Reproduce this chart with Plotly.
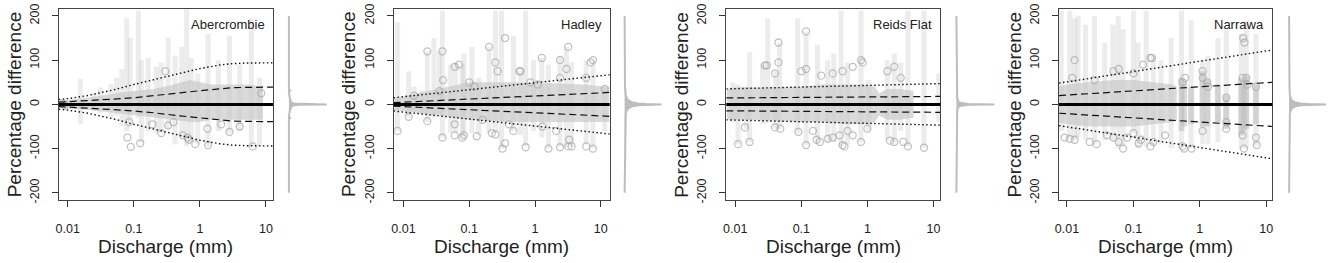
import plotly.graph_objects as go

W, H = 1329, 263

# ---------------- shared axis data ----------------
x_ticks = [0.01, 0.1, 1, 10]
x_tick_labels = ["0.01", "0.1", "1", "10"]
y_ticks = [-200, -100, 0, 100, 200]
y_tick_labels = ["-200", "-100", "0", "100", "200"]
station_names = ["Abercrombie", "Hadley", "Reids Flat", "Narrawa"]

# ---------------- Abercrombie ----------------
ab_col_x = [0.0155, 0.025, 0.031, 0.045, 0.055, 0.066, 0.078, 0.088, 0.117, 0.13, 0.165, 0.22, 0.26,
            0.33, 0.42, 0.53, 0.63, 0.74, 0.93, 1.33, 1.9, 2.8, 4.0, 6.0, 8.0]
ab_col_lo = [-45, -15, -20, -30, -25, -50, -60, -40, -30, -88, -60, -65, -65,
             -55, -90, -75, -95, -85, -90, -95, -60, -65, -60, -95, -95]
ab_col_hi = [58, 25, 38, 45, 60, 80, 195, 150, 212, 100, 105, 85, 95,
             150, 110, 130, 215, 105, 70, 160, 100, 155, 90, 195, 60]
ab_band_x = [0.0075, 0.01, 0.02, 0.04, 0.07, 0.1, 0.2, 0.4, 0.7, 1.0, 1.5, 3, 5, 9.0]
ab_band_hi = [8, 10, 15, 22, 28, 30, 35, 45, 55, 50, 45, 45, 45, 40]
ab_band_lo = [-8, -10, -12, -18, -22, -25, -30, -35, -40, -40, -35, -35, -35, -35]
ab_pt_x = [0.0085, 0.009, 0.085, 0.08, 0.09, 0.125, 0.26, 0.33, 0.68, 0.85, 1.33, 2.8, 6.3, 0.19, 0.55,
           0.3, 0.65, 0.4, 1.3, 2.1, 4.0, 8.5]
ab_pt_y = [2, -2, -40, -75, -96, -88, -65, -48, -80, -90, -92, -62, -95, -45, -70,
           75, -75, -40, -55, -45, -50, 25]
ab_q_x = [0.0073, 0.01, 0.02, 0.05, 0.1, 0.2, 0.5, 1, 2, 3, 5, 12.8]
ab_q_dash = [5, 6, 8, 12, 15, 19, 26, 31, 36, 37.5, 38.5, 39]
ab_q_dot = [11, 13, 20, 33, 45, 56, 70, 81, 89, 92, 93.5, 94]
ab_dens_y = [-200, -60, -33, -31, -29, -15, -8, -4, -2, -1, 0, 1, 2, 4, 8, 15, 29, 31, 33, 60, 200]
ab_dens_v = [0, 0, 0, 0.03, 0, 0.02, 0.04, 0.07, 0.12, 0.25, 0.95, 0.25, 0.12, 0.07, 0.04, 0.02, 0, 0.03, 0, 0, 0]

# ---------------- Hadley ----------------
ha_col_x = [0.0081, 0.012, 0.0145, 0.019, 0.023, 0.029, 0.035, 0.039, 0.052, 0.062, 0.078, 0.083, 0.11,
            0.14, 0.2, 0.25, 0.31, 0.47, 0.6, 0.72, 0.95, 1.27, 1.6, 2.4, 3.0, 3.6, 6.0, 7.6, 11.5]
ha_col_lo = [-60, -30, -15, -20, -40, -30, -20, -75, -65, -65, -75, -70, -65,
             -70, -65, -65, -100, -60, -70, -95, -60, -75, -100, -95, -95, -95, -90, -100, -60]
ha_col_hi = [185, 75, 40, 30, 120, 150, 120, 212, 90, 95, 90, 115, 130,
             60, 130, 212, 212, 155, 75, 212, 100, 105, 90, 110, 130, 95, 100, 100, 40]
ha_band_x = [0.0072, 0.01, 0.02, 0.05, 0.1, 0.2, 0.5, 1, 2, 5, 13.5]
ha_band_hi = [15, 18, 28, 40, 50, 50, 50, 48, 48, 45, 40]
ha_band_lo = [-15, -15, -22, -28, -35, -38, -40, -40, -40, -40, -40]
ha_pt_x = [0.0081, 0.012, 0.023, 0.023, 0.039, 0.039, 0.06, 0.078, 0.083, 0.13, 0.2, 0.22, 0.25, 0.32,
           0.35, 0.35, 0.47, 0.6, 0.72, 1.27, 1.6, 2.4, 3.2, 3.6, 6.0, 7.6, 7.6, 2.4,
           0.0145, 0.035, 0.04, 0.06, 0.07, 0.1, 0.12, 0.25, 0.27, 0.58, 0.85, 1.1, 2.4, 3.0, 3.2,
           6.0, 7.0, 11.5, 0.06, 0.16, 0.4, 1.3, 2.1, 3.3]
ha_pt_y = [-60, -28, 120, -38, 120, -75, -70, -75, -70, -72, 130, -65, -68, -100,
           -88, 150, -60, 75, -97, 105, -100, -97, -95, -95, -95, -100, 100, 100,
           20, 30, 55, 85, 90, 50, 40, 95, 75, 75, 50, 45, 60, 80, 130,
           60, 95, 35, -45, -35, -45, -50, -60, -80]
ha_q_x = [0.00705, 13.7]
ha_q_dash = [4, 27]
ha_q_dot = [15, 67]
ha_dens_y = [-200, -40, -20, -10, -5, -2, -1, 0, 1, 2, 5, 10, 20, 40, 200]
ha_dens_v = [0, 0.01, 0.03, 0.08, 0.18, 0.35, 0.55, 0.95, 0.55, 0.35, 0.18, 0.08, 0.03, 0.01, 0]

# ---------------- Reids Flat ----------------
rf_col_x = [0.0092, 0.011, 0.0147, 0.0165, 0.026, 0.031, 0.041, 0.047, 0.088, 0.118, 0.176, 0.25,
            0.31, 0.4, 0.5, 0.8, 1.05, 2.0, 2.55, 3.2, 4.1, 7.2, 12.0]
rf_col_lo = [-40, -90, -55, -85, -45, -40, -55, -55, -65, -92, -85, -85,
             -85, -95, -90, -85, -60, -80, -85, -60, -95, -98, -40]
rf_col_hi = [50, 45, 40, 118, 90, 195, 75, 140, 195, 165, 135, 100,
             115, 212, 95, 212, 55, 100, 115, 95, 212, 212, 70]
rf_band_x = [0.0075, 0.01, 0.02, 0.05, 0.1, 0.2, 0.5, 1.0, 1.3, 1.5, 2, 3, 5]
rf_band_hi = [35, 38, 38, 40, 40, 45, 45, 45, 40, 25, 35, 35, 30]
rf_band_lo = [-35, -35, -35, -38, -40, -40, -45, -45, -40, -25, -35, -35, -30]
rf_pt_x = [0.011, 0.0165, 0.014, 0.04, 0.045, 0.048, 0.09, 0.118, 0.118, 0.17, 0.19, 0.25, 0.38,
           0.42, 0.45, 0.6, 0.8, 0.8, 2.2, 2.55, 3.5, 4.1, 7.2, 0.03,
           0.028, 0.04, 0.045, 0.1, 0.118, 0.2, 0.3, 0.42, 0.85, 0.6, 2.0, 2.55, 3.2, 0.15, 0.3, 0.5, 1.0]
rf_pt_y = [-90, -85, -52, -52, 140, -55, -62, -92, 165, -80, -85, -78, -70,
           -92, -95, -70, -85, 100, -82, -85, -85, -95, -98, 88,
           88, 70, 95, 75, 80, 65, 70, 75, 95, 85, 75, 85, 60, -60, -75, -60, -55]
rf_q_x = [0.0073, 12.8]
rf_q_dash = [14.5, 18]
rf_q_dot = [35, 47]
rf_dens_y = [-200, -15, -6, -3, -1, 0, 1, 3, 6, 15, 200]
rf_dens_v = [0, 0.02, 0.05, 0.12, 0.3, 0.95, 0.3, 0.12, 0.05, 0.02, 0]

# ---------------- Narrawa ----------------
na_col_x = [0.0082, 0.011, 0.013, 0.0147, 0.019, 0.026, 0.037, 0.049, 0.059, 0.07, 0.1, 0.117, 0.156,
            0.2, 0.26, 0.37, 0.53, 0.74, 1.1, 1.33, 1.87, 2.5, 4.2, 5.0, 7.0]
na_col_lo = [-60, -75, -80, -75, -80, -90, -80, -80, -100, -95, -65, -100, -95,
             -90, -90, -100, -100, -100, -90, -90, -85, -55, -100, -100, -95]
na_col_hi = [212, 212, 195, 200, 180, 200, 140, 180, 200, 170, 212, 140, 212,
             110, 100, 150, 212, 190, 100, 110, 150, 170, 160, 190, 160]
na_core_x = [0.53, 0.58, 0.74, 1.1, 1.3, 1.87, 2.5, 4.2, 4.6, 5.0, 7.0]
na_core_lo = [-60, -50, -45, -50, -50, -40, -55, -70, -60, -55, -45]
na_core_hi = [60, 50, 40, 75, 55, 45, 20, 60, 50, 65, 45]
na_band_x = [0.0072, 0.01, 0.02, 0.05, 0.1, 0.2, 0.4, 0.45]
na_band_hi = [40, 45, 50, 55, 55, 50, 45, 40]
na_band_lo = [-40, -45, -50, -50, -50, -45, -40, -35]
na_pt_x = [0.0092, 0.011, 0.013, 0.013, 0.022, 0.028, 0.05, 0.06, 0.07, 0.1, 0.12, 0.13, 0.18, 0.19,
           0.55, 0.58, 0.75, 1.1, 1.3, 2.5, 2.5, 4.5, 4.7, 4.6, 5.0, 7.2, 0.55,
           0.012, 0.026, 0.05, 0.06, 0.1, 0.14, 0.18, 0.6, 1.1, 1.33, 4.4, 5.2, 7.0,
           0.04, 0.08, 0.2, 0.3, 1.1, 2.5, 4.4, 7.0]
na_pt_y = [-75, -78, -80, 100, -85, -90, -75, -85, -100, -65, -88, -80, -95, 105,
           -95, -100, -100, 75, 50, 15, -55, 150, 140, -100, 60, -92, 50,
           60, 55, 75, 80, 70, 90, 105, 60, 60, 40, 60, 45, 40,
           -70, -75, -85, -70, -60, -40, -70, -75]
na_q_x = [0.0076, 12.3]
na_q_dash = [20, 50]
na_q_dot = [48, 123]
na_dens_y = [-200, -40, -20, -10, -5, -2, -1, 0, 1, 2, 5, 10, 20, 40, 200]
na_dens_v = [0, 0.01, 0.02, 0.06, 0.14, 0.3, 0.5, 0.95, 0.5, 0.3, 0.14, 0.06, 0.02, 0.01, 0]

# ---------------- layout geometry (pixels) ----------------
panel_px = [(55, 270), (391, 608), (725, 940), (1059, 1273)]
dens_px = [(284, 326), (621, 662), (954, 996), (1288, 1329)]
x_ranges = [(-2.136, 1.106), (-2.152, 1.136), (-2.136, 1.106), (-2.12, 1.09)]
plot_top, plot_bot = 4, 201

panels = [
    dict(cx=ab_col_x, clo=ab_col_lo, chi=ab_col_hi, bx=ab_band_x, bhi=ab_band_hi, blo=ab_band_lo,
         px=ab_pt_x, py=ab_pt_y, qx=ab_q_x, qd=ab_q_dash, qo=ab_q_dot, dy=ab_dens_y, dv=ab_dens_v),
    dict(cx=ha_col_x, clo=ha_col_lo, chi=ha_col_hi, bx=ha_band_x, bhi=ha_band_hi, blo=ha_band_lo,
         px=ha_pt_x, py=ha_pt_y, qx=ha_q_x, qd=ha_q_dash, qo=ha_q_dot, dy=ha_dens_y, dv=ha_dens_v),
    dict(cx=rf_col_x, clo=rf_col_lo, chi=rf_col_hi, bx=rf_band_x, bhi=rf_band_hi, blo=rf_band_lo,
         px=rf_pt_x, py=rf_pt_y, qx=rf_q_x, qd=rf_q_dash, qo=rf_q_dot, dy=rf_dens_y, dv=rf_dens_v),
    dict(cx=na_col_x, clo=na_col_lo, chi=na_col_hi, bx=na_band_x, bhi=na_band_hi, blo=na_band_lo,
         px=na_pt_x, py=na_pt_y, qx=na_q_x, qd=na_q_dash, qo=na_q_dot, dy=na_dens_y, dv=na_dens_v,
         kx=na_core_x, klo=na_core_lo, khi=na_core_hi),
]

FONT = "Liberation Sans, Arial, sans-serif"
fig = go.Figure()
layout = dict(width=W, height=H, margin=dict(l=0, r=0, t=0, b=0), showlegend=False,
              plot_bgcolor="white", paper_bgcolor="white", font=dict(family=FONT, color="#222"))
annotations = []
shapes = []
ydom = [1 - plot_bot / H, 1 - plot_top / H]

for i, p in enumerate(panels):
    xa = "x" if i == 0 else f"x{i+1}"
    ya = "y" if i == 0 else f"y{i+1}"
    dxa = f"x{i+5}"
    dya = f"y{i+5}"

    # dense core band
    fig.add_trace(go.Scatter(x=p["bx"] + p["bx"][::-1], y=p["bhi"] + p["blo"][::-1], fill="toself",
                             mode="lines", line=dict(width=0), fillcolor="rgba(198,198,198,0.65)",
                             xaxis=xa, yaxis=ya, hoverinfo="skip"))
    # vertical streaks of points
    sx, sy = [], []
    for x, lo, hi in zip(p["cx"], p["clo"], p["chi"]):
        sx += [x, x, None]
        sy += [lo, hi, None]
    fig.add_trace(go.Scatter(x=sx, y=sy, mode="lines",
                             line=dict(color="rgba(200,200,200,0.35)", width=5),
                             xaxis=xa, yaxis=ya, hoverinfo="skip"))
    if "kx" in p:
        kx, ky = [], []
        for x, lo, hi in zip(p["kx"], p["klo"], p["khi"]):
            kx += [x, x, None]
            ky += [lo, hi, None]
        fig.add_trace(go.Scatter(x=kx, y=ky, mode="lines", line=dict(color="rgba(190,190,190,0.55)", width=6),
                                 xaxis=xa, yaxis=ya, hoverinfo="skip"))
    # distinct darker circles
    fig.add_trace(go.Scatter(x=p["px"], y=p["py"], mode="markers",
                             marker=dict(symbol="circle-open", size=7, color="rgba(168,168,168,0.7)",
                                         line=dict(width=1.3)),
                             xaxis=xa, yaxis=ya, hoverinfo="skip"))
    # quantile lines
    for vals, dash, wd in [(p["qd"], "7px,4px", 1.2), (p["qo"], "1.5px,2.5px", 1.4)]:
        fig.add_trace(go.Scatter(x=p["qx"], y=vals, mode="lines", line=dict(color="#111", width=wd, dash=dash),
                                 xaxis=xa, yaxis=ya, hoverinfo="skip"))
        fig.add_trace(go.Scatter(x=p["qx"], y=[-v for v in vals], mode="lines",
                                 line=dict(color="#111", width=wd, dash=dash),
                                 xaxis=xa, yaxis=ya, hoverinfo="skip"))
    # zero line
    shapes.append(dict(type="line", xref=f"{xa} domain", yref=ya, x0=0, x1=1, y0=0, y1=0,
                       line=dict(color="black", width=3)))
    # marginal density
    fig.add_trace(go.Scatter(x=p["dv"], y=p["dy"], mode="lines", fill="tozerox",
                             line=dict(color="#bdbdbd", width=2), fillcolor="#bdbdbd",
                             xaxis=dxa, yaxis=dya, hoverinfo="skip"))

    l, r = panel_px[i]
    dl, dr = dens_px[i]
    axkey = "xaxis" if i == 0 else f"xaxis{i+1}"
    aykey = "yaxis" if i == 0 else f"yaxis{i+1}"
    layout[axkey] = dict(type="log", domain=[l / W, r / W], range=list(x_ranges[i]), anchor=ya,
                         tickvals=x_ticks, ticktext=x_tick_labels, ticks="outside", ticklen=6,
                         tickcolor="#333", showline=True, mirror=True, linecolor="#444", linewidth=1,
                         showgrid=False, zeroline=False, tickfont=dict(size=12.5, color="#222"),
                         ticklabelstandoff=11, ticklabeloverflow="allow")
    layout[aykey] = dict(domain=ydom, range=[-216, 216], anchor=xa, tickvals=y_ticks, ticktext=y_tick_labels,
                         ticks="outside", ticklen=6, tickcolor="#333", showline=True, mirror=True,
                         linecolor="#444", linewidth=1, showgrid=False, zeroline=False, tickangle=-90,
                         tickfont=dict(size=12.5, color="#222"), ticklabelstandoff=8,
                         ticklabeloverflow="allow")
    layout[f"xaxis{i+5}"] = dict(domain=[dl / W, dr / W], range=[-0.05, 1.0], anchor=dya, visible=False,
                                 fixedrange=True)
    layout[f"yaxis{i+5}"] = dict(domain=ydom, range=[-216, 216], anchor=dxa, visible=False)

    # texts
    annotations.append(dict(text=station_names[i], xref="paper", yref="paper", x=(r - 6) / W, y=1 - 20 / H,
                            xanchor="right", yanchor="middle", showarrow=False,
                            font=dict(size=13, color="#222", family=FONT)))
    annotations.append(dict(text="Percentage difference", xref="paper", yref="paper", x=(l - 45) / W,
                            y=1 - 102.5 / H, textangle=-90, xanchor="center", yanchor="middle",
                            showarrow=False, font=dict(size=19, color="#222", family=FONT)))
    annotations.append(dict(text="Discharge (mm)", xref="paper", yref="paper", x=(l + r) / 2 / W,
                            y=1 - 249 / H, xanchor="center", yanchor="middle", showarrow=False,
                            font=dict(size=19, color="#222", family=FONT)))

layout["annotations"] = annotations
layout["shapes"] = shapes
fig.update_layout(**layout)
fig.write_html("out.html", config={"displayModeBar": False},
               post_script="document.body.style.margin='0';document.body.style.overflow='hidden';")
